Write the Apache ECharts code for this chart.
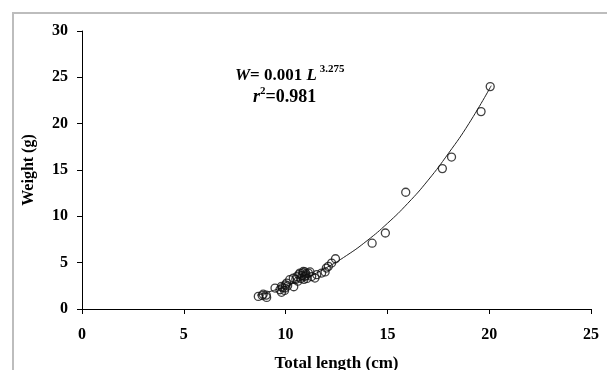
<!DOCTYPE html>
<html><head><meta charset="utf-8">
<script src="https://cdn.jsdelivr.net/npm/echarts@6/dist/echarts.min.js"></script>
<style>html,body{margin:0;padding:0;background:#fff}#c{width:607px;height:370px}</style>
</head><body><div id="c"></div>
<script>
const lengths = [8.66,8.85,8.9,9.07,9.05,9.48,9.72,9.8,9.8,9.97,9.95,10.05,10.1,10.2,10.4,10.38,10.55,10.6,10.7,10.75,10.8,10.87,10.9,10.94,11.0,11.05,11.12,11.2,11.28,11.44,11.53,11.77,11.94,12.0,12.1,12.26,12.45,14.25,14.9,15.9,17.7,18.15,19.6,20.05,10.65,10.85,11.0,10.5,10.95,9.85,10.0];
const weights = [1.36,1.45,1.6,1.25,1.5,2.26,2.08,1.8,2.44,2.26,2.0,2.8,2.5,3.16,2.4,3.34,3.5,3.0,3.88,3.3,3.6,4.05,3.2,3.5,3.8,3.3,3.88,4.0,3.5,3.34,3.7,3.88,4.0,4.42,4.6,4.96,5.42,7.1,8.2,12.6,15.15,16.4,21.3,24.0,3.7,3.9,3.6,3.2,4.0,2.3,2.6];
const curveX = [8.6,9,10,11,12,13,14,15,16,17,18,19,20.1];
const curveY = [1.49,1.73,2.45,3.35,4.45,5.78,7.37,9.24,11.4,13.9,16.8,20.0,24.1];
const xTicks = [0,5,10,15,20,25];
const yTicks = [0,5,10,15,20,25,30];

const font = 'Liberation Serif';
const chart = echarts.init(document.getElementById('c'));
chart.setOption({
  animation:false,
  backgroundColor:'#fff',
  grid:{left:82,right:16,top:31,bottom:61,containLabel:false,outerBoundsMode:'none'},
  xAxis:{type:'value',min:xTicks[0],max:xTicks[xTicks.length-1],interval:5,
    name:'Total length (cm)',nameLocation:'middle',nameGap:46,
    nameTextStyle:{fontFamily:font,fontWeight:'bold',fontSize:17,color:'#000'},
    axisLine:{lineStyle:{color:'#000',width:1}},
    axisTick:{show:true,length:5,lineStyle:{color:'#000'}},
    axisLabel:{margin:18,fontFamily:font,fontWeight:'bold',fontSize:16,color:'#000'},
    splitLine:{show:false}},
  yAxis:{type:'value',min:yTicks[0],max:yTicks[yTicks.length-1],interval:5,
    name:'Weight (g)',nameLocation:'middle',nameGap:45,
    nameTextStyle:{fontFamily:font,fontWeight:'bold',fontSize:16,color:'#000'},
    axisLine:{show:true,lineStyle:{color:'#000',width:1}},
    axisTick:{show:true,length:5,lineStyle:{color:'#000'}},
    axisLabel:{margin:14,fontFamily:font,fontWeight:'bold',fontSize:16,color:'#000'},
    splitLine:{show:false}},
  graphic:[
    {type:'rect',shape:{x:13,y:13,width:620,height:380},style:{fill:'none',stroke:'#bdbdbd',lineWidth:2},silent:true},
    {type:'text',left:235,top:64,style:{
      text:'{i|W}{b|= 0.001 }{i|L}{s| 3.275}',
      rich:{
        i:{fontFamily:font,fontStyle:'italic',fontWeight:'bold',fontSize:17,lineHeight:20,verticalAlign:'bottom'},
        b:{fontFamily:font,fontWeight:'bold',fontSize:17,lineHeight:20,verticalAlign:'bottom'},
        s:{fontFamily:font,fontWeight:'bold',fontSize:11,lineHeight:20,verticalAlign:'top',padding:[0,0,8,0]}
      }}},
    {type:'text',left:253,top:86,style:{
      text:'{i|r}{s|2}{b|=0.981}',
      rich:{
        i:{fontFamily:font,fontStyle:'italic',fontWeight:'bold',fontSize:18,lineHeight:20,verticalAlign:'bottom'},
        b:{fontFamily:font,fontWeight:'bold',fontSize:18,lineHeight:20,verticalAlign:'bottom'},
        s:{fontFamily:font,fontWeight:'bold',fontSize:11,lineHeight:20,verticalAlign:'top',padding:[0,0,8,0]}
      }}}
  ],
  series:[
    {type:'line',data:curveX.map((x,i)=>[x,curveY[i]]),smooth:true,showSymbol:false,
     lineStyle:{color:'#222',width:1},z:1},
    {type:'scatter',data:lengths.map((x,i)=>[x,weights[i]]),symbol:'circle',symbolSize:8,
     itemStyle:{color:'rgba(255,255,255,0)',borderColor:'#111',borderWidth:1.3},z:2}
  ]
});
</script></body></html>
